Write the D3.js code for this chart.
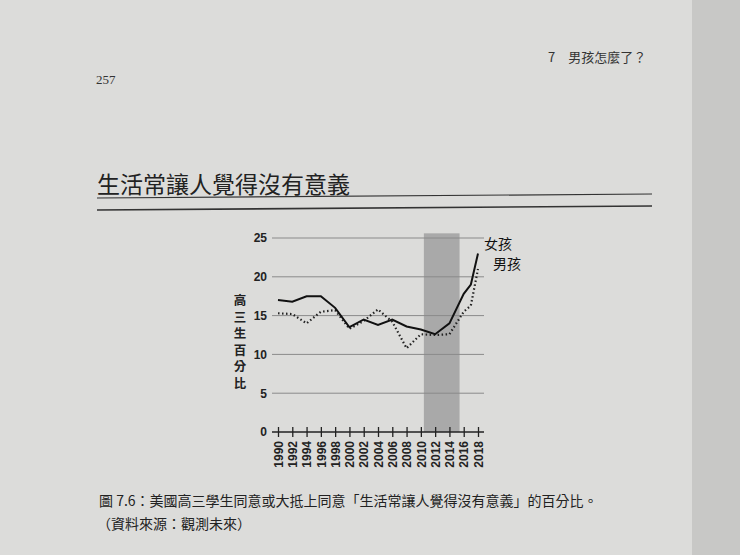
<!DOCTYPE html>
<html><head><meta charset="utf-8">
<script src="https://cdn.jsdelivr.net/npm/d3@7"></script>
<style>body{margin:0;background:#d9d9d7}svg{display:block}</style>
</head><body><svg id="c" width="740" height="555"></svg>
<script>
var years = [1990,1992,1994,1996,1998,2000,2002,2004,2006,2008,2010,2012,2014,2016,2017,2018];
var girls = [17,16.8,17.5,17.5,16,13.5,14.5,13.8,14.5,13.6,13.2,12.6,14,17.8,19,23];
var boys  = [15.3,15.2,14,15.5,15.7,13.3,14.3,15.8,14.2,10.8,12.6,12.5,12.6,15.5,16.3,21];
var yTicks = [0,5,10,15,20,25];
var xTicks = d3.range(1990,2019,2);

var svg = d3.select("#c");
var font = "'Noto Sans CJK TC', sans-serif";
// page
svg.append("rect").attr("width",740).attr("height",555).attr("fill","#dcdcda");
svg.append("rect").attr("x",692).attr("width",48).attr("height",555).attr("fill","#c8c8c6");
svg.append("text").attr("x",96).attr("y",84).attr("font-family","'Liberation Serif',serif").attr("font-size",13).attr("fill","#333").text("257");
svg.append("text").attr("x",548).attr("y",62).attr("font-family",font).attr("font-size",13).attr("fill","#333").text("7　男孩怎麼了？");
svg.append("text").attr("x",97).attr("y",193).attr("font-family",font).attr("font-size",23).attr("fill","#222").text("生活常讓人覺得沒有意義");
svg.append("line").attr("x1",97).attr("x2",652).attr("y1",198).attr("y2",194).attr("stroke","#333").attr("stroke-width",1.2);
svg.append("line").attr("x1",97).attr("x2",652).attr("y1",210).attr("y2",206).attr("stroke","#333").attr("stroke-width",1.6);

var x = d3.scaleLinear().domain([1990,2018]).range([278,478]);
var y = d3.scaleLinear().domain([0,25]).range([432,238]);

var g = svg.append("g");
g.append("rect").attr("x",x(2010)+3).attr("width",x(2015)-x(2010)).attr("y",y(25.6)).attr("height",y(0)-y(25.6)).attr("fill","#a9a9a9");
g.selectAll(".grid").data(yTicks.slice(1)).enter().append("line")
  .attr("x1",272).attr("x2",484).attr("y1",d=>y(d)).attr("y2",d=>y(d)).attr("stroke","#8a8a8a").attr("stroke-width",1);

var xa = g.append("g").attr("transform","translate(0,"+y(0)+")")
  .call(d3.axisBottom(x).tickValues(xTicks).tickFormat(d3.format("d")).tickSize(5).tickSizeOuter(0));
xa.select(".domain").attr("d","M272,0H484").attr("stroke","#222").attr("stroke-width",1.5);
xa.selectAll(".tick line").attr("y1",-5).attr("stroke","#222").attr("stroke-width",1.3);
xa.selectAll(".tick text").attr("transform","rotate(-90)").attr("x",-9).attr("y",0).attr("dy","0.35em")
  .style("text-anchor","end").attr("font-family","'Liberation Sans',Arial,sans-serif").attr("font-weight","bold").attr("font-size",12).attr("fill","#222");

var ya = g.append("g").attr("transform","translate(270,0)").call(d3.axisLeft(y).tickValues(yTicks).tickSize(0));
ya.select(".domain").remove();
ya.selectAll("text").attr("font-family","'Liberation Sans',Arial,sans-serif").attr("font-weight","bold").attr("font-size",12).attr("fill","#222");

var line = d3.line().x((d,i)=>x(years[i])).y(d=>y(d));
g.append("path").datum(boys).attr("d",line).attr("fill","none").attr("stroke","#222").attr("stroke-width",2.2).attr("stroke-dasharray","1.5,2.5");
g.append("path").datum(girls).attr("d",line).attr("fill","none").attr("stroke","#111").attr("stroke-width",2);

g.append("text").attr("x",484).attr("y",249).attr("font-family",font).attr("font-size",14).attr("fill","#111").text("女孩");
g.append("text").attr("x",493).attr("y",269).attr("font-family",font).attr("font-size",14).attr("fill","#111").text("男孩");
var yl = "高三生百分比".split("");
g.selectAll(".yl").data(yl).enter().append("text").attr("x",240).attr("y",(d,i)=>305+i*16.5)
  .attr("text-anchor","middle").attr("font-family",font).attr("font-weight","bold").attr("font-size",12.5).attr("fill","#222").text(d=>d);

svg.append("text").attr("x",99).attr("y",506).attr("font-family",font).attr("font-size",14).attr("fill","#222")
  .text("圖 7.6：美國高三學生同意或大抵上同意「生活常讓人覺得沒有意義」的百分比。");
svg.append("text").attr("x",97).attr("y",529).attr("font-family",font).attr("font-size",14).attr("fill","#222")
  .text("（資料來源：觀測未來）");
</script></body></html>
